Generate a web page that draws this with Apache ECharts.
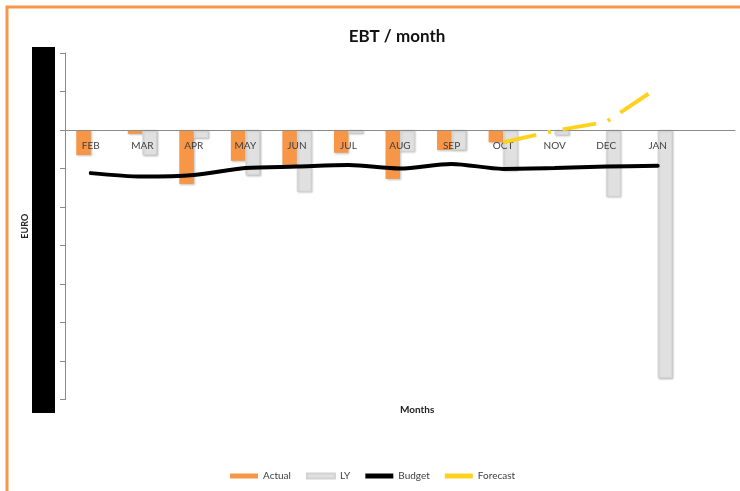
<!DOCTYPE html>
<html>
<head>
<meta charset="utf-8">
<script src="https://cdn.jsdelivr.net/npm/echarts@6/dist/echarts.min.js"></script>
<style>
  html, body { margin: 0; padding: 0; background: #fff; }
  #chart { width: 740px; height: 491px; }
</style>
</head>
<body>
<div id="chart"></div>
<script>
// Months of the fiscal year (last slot left blank on the axis)
const months = ['FEB', 'MAR', 'APR', 'MAY', 'JUN', 'JUL', 'AUG', 'SEP', 'OCT', 'NOV', 'DEC', 'JAN', ''];

// EBT values in EURO
const actual   = [-32500, -5000, -70000, -40000, -45500, -29500, -63500, -26000, -16000, null, null, null, null];
const lastYear = [null, -32500, -10500, -58500, -80000, -4300, -28000, -26000, -52000, -6500, -86500, -322000, null];
const budget   = [-56000, -60500, -58500, -49500, -47500, -45500, -50000, -44000, -50500, -49500, -47500, -46500, null];
const forecast = [null, null, null, null, null, null, null, null, -16000, -1000, 10500, 55000, null];

// Value axis range
const yMin = -350000;
const yMax = 100000;
const yStep = 50000;

const chart = echarts.init(document.getElementById('chart'), null, { renderer: 'canvas' });

const font = 'Lato, "Open Sans", sans-serif';
const barShadow = { shadowColor: 'rgba(0,0,0,0.25)', shadowBlur: 2, shadowOffsetX: 1, shadowOffsetY: 1 };

// Grid geometry, used to keep the month labels right under the zero line
const gridTop = 53;
const gridBottom = 91.5;
const plotHeight = 491 - gridTop - gridBottom;
const zeroFromBottom = plotHeight * (0 - yMin) / (yMax - yMin);

chart.setOption({
  backgroundColor: '#ffffff',
  animation: false,
  title: {
    text: 'EBT / month',
    left: 392,
    textAlign: 'center',
    top: 23,
    textStyle: { fontFamily: font, fontSize: 17, fontWeight: 'bold', color: '#111' }
  },
  legend: {
    left: 225,
    bottom: 5,
    itemWidth: 28,
    itemHeight: 5,
    itemGap: 15,
    icon: 'rect',
    textStyle: { fontFamily: font, fontSize: 10, color: '#404040' },
    data: [
      { name: 'Actual', itemStyle: { color: '#F79646' } },
      { name: 'LY', itemStyle: { color: '#E0E0E0' } },
      { name: 'Budget', itemStyle: { color: '#000000' } },
      { name: 'Forecast', itemStyle: { color: '#FFD21F' } }
    ]
  },
  grid: { left: 65, right: 5, top: gridTop, bottom: gridBottom, containLabel: false },
  xAxis: {
    type: 'category',
    data: months,
    boundaryGap: true,
    z: 3,
    axisLine: { onZero: true, lineStyle: { color: '#8a8a8a', width: 1 } },
    axisTick: { show: false },
    axisLabel: {
      margin: 11 - zeroFromBottom,
      fontFamily: font, fontSize: 10, color: '#404040', interval: 0
    },
    splitLine: { show: false }
  },
  yAxis: {
    type: 'value',
    min: yMin,
    max: yMax,
    interval: yStep,
    name: 'EURO',
    nameLocation: 'middle',
    nameRotate: 90,
    nameGap: 35,
    nameTextStyle: { fontFamily: font, fontSize: 9, fontWeight: 'bold', color: '#222' },
    axisLine: { show: true, lineStyle: { color: '#8a8a8a', width: 1 } },
    axisTick: { show: true, length: 5, lineStyle: { color: '#8a8a8a' } },
    axisLabel: { show: false },
    splitLine: { show: false }
  },
  series: [
    {
      name: 'Actual', type: 'bar', data: actual,
      barWidth: 14.5, barGap: '0%',
      itemStyle: Object.assign({ color: '#F79646' }, barShadow),
      z: 2
    },
    {
      name: 'LY', type: 'bar', data: lastYear,
      barWidth: 14.5, barGap: '0%',
      itemStyle: Object.assign({ color: '#E0E0E0', borderColor: '#d2d2d2', borderWidth: 0.5 }, barShadow),
      z: 2
    },
    {
      name: 'Budget', type: 'line', data: budget,
      smooth: 0.3, symbol: 'none', connectNulls: false,
      lineStyle: { color: '#000000', width: 4, cap: 'round' },
      itemStyle: { color: '#000000' },
      z: 4
    },
    {
      name: 'Forecast', type: 'line', data: forecast,
      symbol: 'none', connectNulls: false,
      lineStyle: { color: '#FFD21F', width: 4, type: [34, 12, 3, 12], cap: 'butt' },
      itemStyle: { color: '#FFD21F' },
      z: 4
    }
  ],
  graphic: [
    {
      type: 'text', silent: true, z: 10,
      left: 400, top: 405,
      style: {
        text: 'Months', x: 0, y: 0, textAlign: 'center',
        fontFamily: font, fontSize: 10, fontWeight: 'bold', fill: '#222'
      }
    },
    {
      type: 'rect', silent: true, z: 100,
      shape: { x: 7, y: 7, width: 780, height: 540 },
      style: { fill: 'none', stroke: '#F79646', lineWidth: 3 }
    },
    {
      type: 'rect', silent: true, z: 100,
      shape: { x: 32, y: 47, width: 23, height: 366 },
      style: { fill: '#000000' }
    }
  ]
});
</script>
</body>
</html>
